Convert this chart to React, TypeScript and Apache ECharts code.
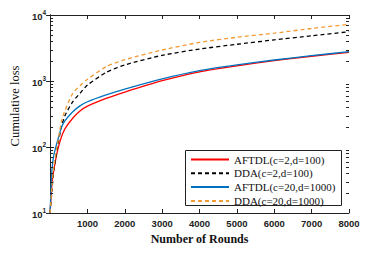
import React, { useEffect, useRef } from 'react';
import * as echarts from 'echarts';

const rounds = [0, 50, 100, 200, 300, 400, 600, 800, 1000, 1500, 2000, 3000, 4000, 5000, 6000, 7000, 8000];
const aftdlSmall = [10, 28, 45, 88, 140, 190, 270, 350, 415, 545, 680, 1010, 1380, 1700, 2030, 2370, 2720];
const ddaSmall = [10, 22, 45, 100, 200, 300, 480, 650, 870, 1350, 1750, 2450, 3050, 3600, 4200, 4850, 5580];
const aftdlLarge = [10, 45, 75, 125, 195, 250, 340, 420, 485, 615, 755, 1080, 1440, 1760, 2080, 2420, 2780];
const ddaLarge = [10, 25, 50, 110, 240, 360, 640, 850, 1060, 1650, 2100, 2950, 3850, 4600, 5300, 6250, 7230];

const seriesNames = ['AFTDL(c=2,d=100)', 'DDA(c=2,d=100)', 'AFTDL(c=20,d=1000)', 'DDA(c=20,d=1000)'];
const xMin = 0;
const xMax = 8000;
const xStep = 1000;
const yMin = 10;
const yMax = 10000;
const decades = [10, 100, 1000];
const minorMultipliers = [2, 3, 4, 5, 6, 7, 8, 9];
const minorTickValues = decades.flatMap((d) => minorMultipliers.map((m) => m * d));

const AXIS = '#222';

export default function App() {
  const ref = useRef<HTMLDivElement>(null);
  useEffect(() => {
    document.body.style.margin = '0';
    const chart = echarts.init(ref.current!, null, { renderer: 'svg' });
    const pair = (ys: number[]) => rounds.map((x, i) => [x, ys[i]]);
    const tickLabel = {
      fontFamily: 'Liberation Sans',
      fontWeight: 'bold' as const,
      fontSize: 9.5,
      color: AXIS,
    };
    const xBase = {
      type: 'value' as const,
      min: xMin,
      max: xMax,
      interval: xStep,
      splitLine: { show: false },
      axisLine: { show: true, lineStyle: { color: AXIS, width: 1 } },
      axisTick: { show: true, inside: true, length: 4, lineStyle: { color: AXIS } },
    };
    const yBase = {
      type: 'log' as const,
      logBase: 10,
      min: yMin,
      max: yMax,
      splitLine: { show: false },
      axisLine: { show: true, lineStyle: { color: AXIS, width: 1 } },
      axisTick: { show: true, inside: true, length: 4, lineStyle: { color: AXIS } },
    };
    const lineSeries = (name: string, data: number[], color: string, dashed: boolean) => ({
      name,
      type: 'line' as const,
      data: pair(data),
      showSymbol: false,
      symbol: 'none',
      smooth: 0.2,
      lineStyle: { color, width: 1.3, type: dashed ? [4, 3] : 'solid' },
      itemStyle: { color },
      z: 3,
    });
    chart.setOption({
      animation: false,
      grid: { left: 38, right: 32, top: 15, bottom: 41 },
      xAxis: [
        {
          ...xBase,
          position: 'bottom',
          name: 'Number of Rounds',
          nameLocation: 'middle',
          nameGap: 16,
          nameTextStyle: { fontFamily: 'Liberation Serif', fontWeight: 'bold', fontSize: 12, color: '#111' },
          axisLabel: {
            ...tickLabel,
            margin: 5,
            formatter: (v: number) => (v === 0 ? '' : String(v)),
          },
        },
        { ...xBase, position: 'top', axisLabel: { show: false } },
      ],
      yAxis: [
        {
          ...yBase,
          position: 'left',
          name: 'Cumulative loss',
          nameLocation: 'middle',
          nameGap: 27,
          nameTextStyle: {
            fontFamily: 'Liberation Serif',
            fontSize: 12.5,
            color: '#111',
            padding: [0, 0, 0, 16],
          },
          axisLabel: {
            margin: 4,
            formatter: (v: number) => `{b|10}{s|${Math.round(Math.log10(v))}}`,
            rich: {
              b: { ...tickLabel, fontSize: 9.5, lineHeight: 13, verticalAlign: 'bottom' },
              s: { ...tickLabel, fontSize: 6.5, lineHeight: 13, verticalAlign: 'top' },
            },
          },
        },
        { ...yBase, position: 'right', axisLabel: { show: false } },
      ],
      legend: {
        orient: 'vertical',
        left: 185,
        top: 150,
        padding: [4, 6, 3, 5],
        itemWidth: 38,
        itemHeight: 10,
        itemGap: 2.8,
        z: 10,
        data: seriesNames,
        itemStyle: { opacity: 0 },
        textStyle: { fontFamily: 'Liberation Serif', fontSize: 11, color: '#111' },
      },
      graphic: [
        {
          type: 'rect',
          z: 5,
          shape: { x: 185.5, y: 150.5, width: 156, height: 55 },
          style: { fill: '#fff', stroke: AXIS, lineWidth: 1 },
        },
      ],
      series: [
        lineSeries(seriesNames[0], aftdlSmall, '#FF0000', false),
        lineSeries(seriesNames[1], ddaSmall, '#000000', true),
        lineSeries(seriesNames[2], aftdlLarge, '#0072BD', false),
        lineSeries(seriesNames[3], ddaLarge, '#F39A32', true),
        {
          type: 'custom',
          silent: true,
          clip: false,
          z: 4,
          data: minorTickValues.map((v) => [xMin, v]),
          renderItem: (_p: any, api: any) => {
            const v = api.value(1);
            const l = api.coord([xMin, v]);
            const r = api.coord([xMax, v]);
            const y = Math.round(l[1]) + 0.5;
            const st = { stroke: AXIS, lineWidth: 1 };
            return {
              type: 'group',
              children: [
                { type: 'line', shape: { x1: l[0], y1: y, x2: l[0] + 3, y2: y }, style: st },
                { type: 'line', shape: { x1: r[0] - 3, y1: y, x2: r[0], y2: y }, style: st },
              ],
            };
          },
        },
      ],
    });
    return () => chart.dispose();
  }, []);
  return <div ref={ref} style={{ width: 381, height: 254, position: 'absolute', left: 0, top: 0 }} />;
}
